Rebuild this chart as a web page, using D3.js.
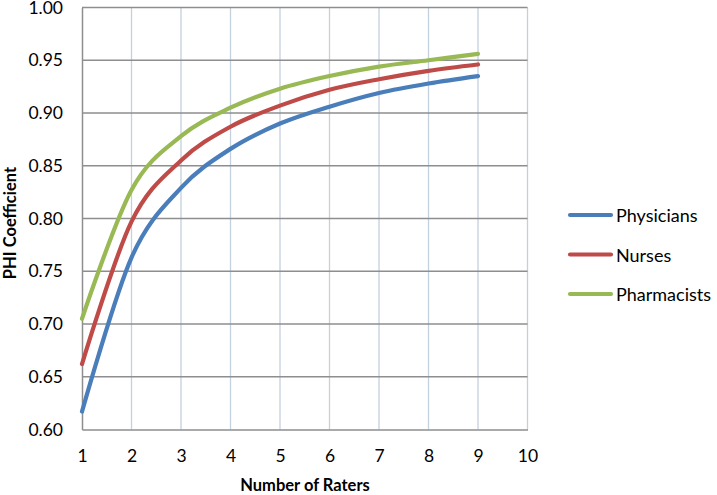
<!DOCTYPE html>
<html><head><meta charset="utf-8">
<script src="https://cdn.jsdelivr.net/npm/d3@7"></script>
<style>body{margin:0;background:#fff}svg{display:block}text{font-family:Lato,"Open Sans",sans-serif}</style>
</head><body><svg id="c" width="717" height="495"></svg>
<script>
const raters = [1,2,3,4,5,6,7,8,9];
const physicians = [0.617,0.763,0.829,0.866,0.890,0.906,0.919,0.928,0.935];
const nurses = [0.662,0.797,0.855,0.887,0.907,0.922,0.932,0.940,0.946];
const pharmacists = [0.705,0.827,0.878,0.905,0.923,0.935,0.944,0.950,0.956];
const seriesNames = ["Physicians","Nurses","Pharmacists"];
const seriesColors = ["#4a7ebb","#be4b48","#98b954"];
const xTicks = [1,2,3,4,5,6,7,8,9,10];
const yTicks = [0.60,0.65,0.70,0.75,0.80,0.85,0.90,0.95,1.00];

const svg = d3.select("#c");
const x = d3.scaleLinear().domain([1,10]).range([82,527.5]);
const y = d3.scaleLinear().domain([0.6,1.0]).range([429.5,7.5]);

// vertical gridlines
svg.append("g").selectAll("line").data(xTicks.slice(1)).join("line")
  .attr("x1",d=>x(d)).attr("x2",d=>x(d)).attr("y1",y(1)).attr("y2",y(0.6))
  .attr("stroke","#c3d0de").attr("stroke-width",1.3);
// horizontal gridlines
svg.append("g").selectAll("line").data(yTicks.slice(1)).join("line")
  .attr("x1",x(1)).attr("x2",x(10)).attr("y1",d=>y(d)).attr("y2",d=>y(d))
  .attr("stroke","#8e8e8e").attr("stroke-width",1.3);

// axes
const xAxis = svg.append("g").attr("transform",`translate(0,${y(0.6)})`)
  .call(d3.axisBottom(x).tickValues(xTicks).tickSize(0).tickPadding(20).tickFormat(d3.format("d")));
const yAxis = svg.append("g").attr("transform",`translate(${x(1)},0)`)
  .call(d3.axisLeft(y).tickValues(yTicks).tickSize(0).tickPadding(19).tickFormat(d3.format(".2f")));
[xAxis,yAxis].forEach(a=>{
  a.select(".domain").attr("stroke","#8e8e8e").attr("stroke-width",1.5);
  a.selectAll("text").attr("font-size",17.5).attr("fill","#000").attr("font-family","Lato,sans-serif");
});

// lines
const data = [physicians,nurses,pharmacists];
const line = d3.line().x((d,i)=>x(raters[i])).y(d=>y(d)).curve(d3.curveCardinal.tension(0));
svg.append("g").selectAll("path").data(data).join("path")
  .attr("d",line).attr("fill","none").attr("stroke",(d,i)=>seriesColors[i])
  .attr("stroke-width",4.2).attr("stroke-linecap","round");

// axis titles
svg.append("text").attr("x",305).attr("y",491).attr("text-anchor","middle")
  .attr("font-size",16.5).attr("font-weight","bold").text("Number of Raters");
svg.append("text").attr("transform","translate(16,223) rotate(-90)").attr("text-anchor","middle")
  .attr("font-size",16.5).attr("font-weight","bold").text("PHI Coefficient");

// legend
const lg = svg.append("g").selectAll("g").data(seriesNames).join("g")
  .attr("transform",(d,i)=>`translate(0,${215+i*39.5})`);
lg.append("line").attr("x1",570).attr("x2",611).attr("y1",0).attr("y2",0)
  .attr("stroke",(d,i)=>seriesColors[i]).attr("stroke-width",4.2).attr("stroke-linecap","round");
lg.append("text").attr("x",616).attr("y",7).attr("font-size",18).text(d=>d);
</script></body></html>
